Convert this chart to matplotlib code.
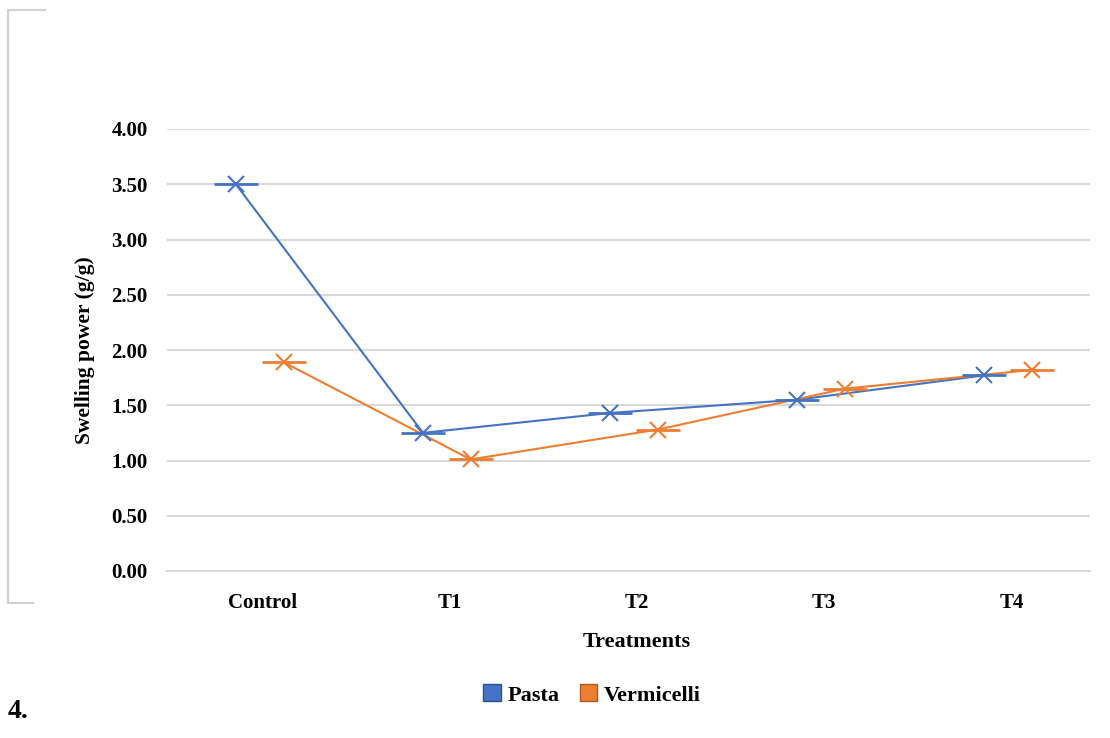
import matplotlib
matplotlib.use("Agg")
import matplotlib.pyplot as plt
import matplotlib.patches as mpatches
import numpy as np

categories = ["Control", "T1", "T2", "T3", "T4"]
pasta = [3.50, 1.25, 1.43, 1.55, 1.77]
vermicelli = [1.89, 1.01, 1.28, 1.65, 1.82]
yticks = [0.0, 0.5, 1.0, 1.5, 2.0, 2.5, 3.0, 3.5, 4.0]

blue = "#4472C4"
orange = "#ED7D31"
grid_c = "#D9D9D9"
serif = ["Liberation Serif", "DejaVu Serif"]

fig = plt.figure(figsize=(11.1, 7.38), dpi=100)

W, H = 1110, 738
def fx(px): return px / W
def fy(py): return 1 - py / H

# partial frame visible at the left
fig.lines.append(plt.Line2D([fx(45), fx(8), fx(8), fx(33)],
                            [fy(10), fy(10), fy(603), fy(603)],
                            transform=fig.transFigure, color="#D0D0D0", lw=1.5, zorder=2))

ax = fig.add_axes([fx(167), fy(571), fx(1090) - fx(167), fy(129) - fy(571)])

x = np.arange(len(categories))
xp = x - 0.145
xv = x + 0.11

for xs, ys, c in [(xp, pasta, blue), (xv, vermicelli, orange)]:
    ax.plot(xs, ys, color=c, lw=1.5, zorder=3)
    ax.plot(xs, ys, ls="none", marker="_", ms=32, mew=2, color=c, zorder=4)
    ax.plot(xs, ys, ls="none", marker="x", ms=11, mew=1.5, color=c, zorder=4)

ax.set_xlim(-0.513, 4.42)
ax.set_ylim(0, 4.0)
ax.set_yticks(yticks)
ax.set_yticklabels([f"{v:.2f}" for v in yticks], family=serif, fontweight="bold", fontsize=15)
ax.set_xticks(x)
ax.set_xticklabels(categories, family=serif, fontweight="bold", fontsize=15)
ax.tick_params(axis="y", length=0, pad=14)
ax.tick_params(axis="x", length=0, pad=16)
ax.grid(axis="y", color=grid_c, lw=1.5)
ax.set_axisbelow(True)
for s in ["top", "right", "left"]:
    ax.spines[s].set_visible(False)
ax.spines["bottom"].set_color(grid_c)
ax.spines["bottom"].set_linewidth(1.5)

ax.set_ylabel("Swelling power (g/g)", family=serif, fontweight="bold", fontsize=15.5, labelpad=12)
ax.set_xlabel("Treatments", family=serif, fontweight="bold", fontsize=16, labelpad=12)
ax.xaxis.set_label_coords((637 - 167) / 923, -(642 - 571) / 442, transform=ax.transAxes)
ax.xaxis.label.set_va("center")

handles = [mpatches.Patch(facecolor=blue, edgecolor="#2F528F", label="Pasta"),
           mpatches.Patch(facecolor=orange, edgecolor="#AE5A21", label="Vermicelli")]
leg = fig.legend(handles=handles, loc="center", bbox_to_anchor=(fx(592), fy(695)),
                 ncol=2, frameon=False, prop={"family": serif, "weight": "bold", "size": 16},
                 handlelength=0.8, handleheight=0.8, handletextpad=0.3, columnspacing=0.9)

fig.text(fx(8), fy(712), "4.", family=serif, fontweight="bold", fontsize=20,
         ha="left", va="center", zorder=5)

fig.savefig("out.png", dpi=100)
